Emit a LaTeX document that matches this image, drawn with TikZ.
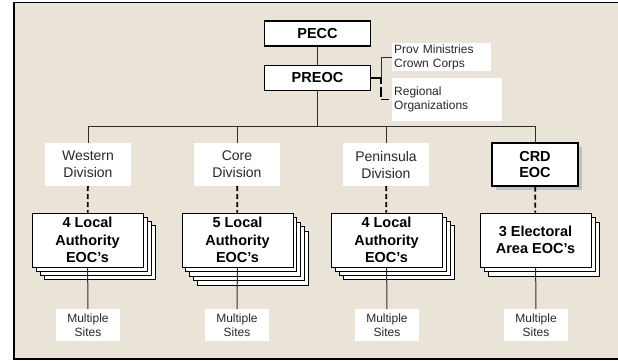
\documentclass[tikz,border=0pt]{standalone}
\usepackage{fontspec}
\setmainfont{Liberation Sans}
\usetikzlibrary{calc}
\definecolor{paper}{RGB}{234,228,216}
\definecolor{wire}{RGB}{45,45,45}
\definecolor{labelgray}{RGB}{40,40,40}
\definecolor{shade}{RGB}{192,192,192}

\begin{document}
\begin{tikzpicture}[x=1pt,y=-1pt,
  topbox/.style={draw=black, line width=1.1pt, fill=white, minimum width=106pt,
    minimum height=25pt, inner sep=0pt, font=\fontsize{14.5}{17}\selectfont\bfseries},
  divlabel/.style={fill=white, minimum width=86pt, minimum height=43pt, inner sep=0pt,
    align=center, text=labelgray, font=\fontsize{14}{17}\selectfont},
  eocbox/.style={draw=black, line width=1.1pt, fill=white, minimum width=86pt,
    minimum height=43pt, inner sep=0pt, align=center, font=\fontsize{14.5}{16.5}\selectfont\bfseries},
  eocshade/.style={fill=shade, minimum width=86pt, minimum height=43pt, inner sep=0pt},
  stackbox/.style={draw=black, line width=1pt, fill=white, minimum width=111pt,
    minimum height=54pt, inner sep=0pt, align=center, font=\fontsize{14.5}{17.5}\selectfont\bfseries},
  sheet/.style={draw=black, line width=0.9pt, fill=white, minimum width=111pt,
    minimum height=54pt, inner sep=0pt},
  sites/.style={fill=white, minimum width=64pt, minimum height=32pt, inner sep=0pt,
    align=center, text=labelgray, font=\fontsize{12}{13.5}\selectfont},
  sidenote/.style={fill=white, anchor=north west, inner xsep=2pt, inner ysep=0pt,
    align=left, text=labelgray, font=\fontsize{12}{14}\selectfont},
  conn/.style={draw=wire, line width=1pt},
  softlink/.style={draw=black, line width=1.8pt, dash pattern=on 5pt off 3pt},
]
\useasboundingbox (0,0) rectangle (618,360);
\clip (0,0) rectangle (618,360);
\fill[white] (0,0) rectangle (618,360);

% framed panel, open on the right where it runs off the page
\fill[paper] (14,2.5) rectangle (640,359);
\draw[line width=1.8pt] (640,2.5) -- (14,2.5) -- (14,359) -- (640,359);

% provincial level
\node[topbox] (pecc) at (317.5,33.5) {PECC};
\node[topbox] (preoc) at (317.5,78) {PREOC};

\node[sidenote, text width=95pt, minimum height=28pt] (prov) at (392,43)
  {Prov Ministries\\Crown Corps};
\node[sidenote, text width=106pt, minimum height=43pt] (regional) at (392,78)
  {Regional\\Organizations};

% divisions
\node[divlabel] (western) at (88,164.5) {Western\\Division};
\node[divlabel] (core) at (237,164.5) {Core\\Division};
\node[divlabel] (peninsula) at (386,164.5) {Peninsula\\Division};
\node[eocshade] (crdshadow) at (539,168.5) {};
\node[eocbox] (crd) at (535,164.5) {CRD\\EOC};

% stacked local EOCs
\foreach \k in {3,2,1}
  \node[sheet] (wsheet\k) at ({87.5+4*\k},{240+4*\k}) {};
\node[stackbox] (wlocal) at (87.5,240) {4 Local\\Authority\\EOC’s};

\foreach \k in {4,3,2,1}
  \node[sheet] (csheet\k) at ({237.5+3.9*\k},{240+4.5*\k}) {};
\node[stackbox] (clocal) at (237.5,240) {5 Local\\Authority\\EOC’s};

\foreach \k in {3,2,1}
  \node[sheet] (psheet\k) at ({386.5+4*\k},{240+4*\k}) {};
\node[stackbox] (plocal) at (386.5,240) {4 Local\\Authority\\EOC’s};

\foreach \k in {2,1}
  \node[sheet] (esheet\k) at ({535.5+4*\k},{240+4.5*\k}) {};
\node[stackbox] (elocal) at (535.5,240) {3 Electoral\\Area EOC’s};

% sites
\node[sites] (wsites) at (88,325) {Multiple\\Sites};
\node[sites] (csites) at (237,325) {Multiple\\Sites};
\node[sites] (psites) at (387,325) {Multiple\\Sites};
\node[sites] (esites) at (536,325) {Multiple\\Sites};

% connectors
\coordinate (bus) at (317.5,126.5);
\draw[conn] (pecc) -- (preoc);
\draw[conn] (preoc) -- (bus);
\draw[conn] (western.north) |- (bus) -| (crd.north);
\draw[conn] (core.north) -- (core.north |- bus);
\draw[conn] (peninsula.north) -- (peninsula.north |- bus);

\coordinate (brk) at ($(preoc.east)+(10,0)$);
\coordinate (regend) at ($(regional.west)+(-3,0)$);
\draw[black, line width=1.3pt] (preoc.east) -- (brk);
\draw[conn] (brk) |- (prov.west);
\draw[black, line width=1.6pt, dash pattern=on 10pt off 3pt, dash phase=-9pt] (brk) -- (brk |- regend);
\draw[black, line width=1.3pt] (brk |- regend) -- (regend);

\draw[softlink] (western) -- (wlocal);
\draw[softlink] (core) -- (clocal);
\draw[softlink] (peninsula) -- (plocal);
\draw[softlink] (crd) -- (elocal);

\draw[conn] (wlocal) -- (wsites);
\draw[conn] (clocal) -- (csites);
\draw[conn] (plocal) -- (psites);
\draw[conn] (elocal) -- (esites);
\end{tikzpicture}
\end{document}
